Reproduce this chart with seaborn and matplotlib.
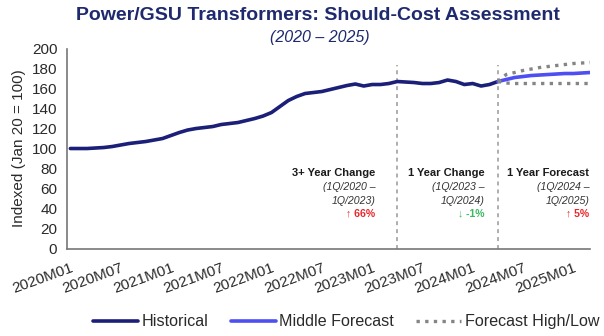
import matplotlib
matplotlib.use("Agg")
import matplotlib.pyplot as plt
import seaborn as sns
import pandas as pd
import numpy as np

# ---- data (index, Jan 2020 = 100), monthly from 2020M01 ----
hist_values = [100, 100, 100, 100.5, 101, 102, 103.5, 105, 106, 107,
               108.5, 110, 113, 116, 118.5, 120, 121, 122, 124, 125,
               126, 128, 130, 132.5, 136, 142, 148, 152, 155, 156,
               157, 159, 161, 163, 164.5, 162.5, 164, 164, 165, 167,
               166.5, 166, 165, 165, 166, 168.5, 167, 164, 165, 162.5,
               164, 167]
forecast_start = 51  # 2024M04
mid_values = [167, 169, 171, 172, 173, 173.5, 174, 174.5, 175, 175, 175.5, 176]
high_values = [167, 174, 176, 178, 179.5, 181, 182, 183, 184, 185, 185.5, 186]
low_values = [167, 165.5, 165, 165, 165, 165, 165, 165, 165, 165, 165, 165]

tick_labels = ["2020M01", "2020M07", "2021M01", "2021M07", "2022M01", "2022M07",
               "2023M01", "2023M07", "2024M01", "2024M07", "2025M01"]
period_boundaries = [39, 51]  # 2023M04, 2024M04

period_titles = ["3+ Year Change", "1 Year Change", "1 Year Forecast"]
period_ranges = [("(1Q/2020 \u2013", "1Q/2023)"),
                 ("(1Q/2023 \u2013", "1Q/2024)"),
                 ("(1Q/2024 \u2013", "1Q/2025)")]
period_changes = ["\u2191 66%", "\u2193 -1%", "\u2191 5%"]
change_colors = ["#e8262b", "#3cb862", "#e8262b"]
text_right_x = [36.4, 49.4, 61.9]

# ---- tidy frames ----
hist_df = pd.DataFrame({"month": np.arange(len(hist_values)), "value": hist_values})
fc_months = np.arange(forecast_start, forecast_start + len(mid_values))
mid_df = pd.DataFrame({"month": fc_months, "value": mid_values})
high_df = pd.DataFrame({"month": fc_months, "value": high_values})
low_df = pd.DataFrame({"month": fc_months, "value": low_values})

sns.set_theme(style="white")
plt.rcParams["font.family"] = ["Liberation Sans", "DejaVu Sans"]

fig = plt.figure(figsize=(6.04, 3.36), dpi=100)
ax = fig.add_axes([0.1109, 0.2604, 0.866, 0.5952])

navy = "#1b1f78"
mid_blue = "#4d4ff2"
dot_gray = "#858585"

sns.lineplot(data=hist_df, x="month", y="value", ax=ax, color=navy,
             linewidth=2.6, label="Historical")
sns.lineplot(data=mid_df, x="month", y="value", ax=ax, color=mid_blue,
             linewidth=2.6, label="Middle Forecast")
sns.lineplot(data=high_df, x="month", y="value", ax=ax, color=dot_gray,
             linewidth=2.4, linestyle=(0, (1, 1.6)), label="Forecast High/Low")
sns.lineplot(data=low_df, x="month", y="value", ax=ax, color=dot_gray,
             linewidth=2.4, linestyle=(0, (1, 1.6)))

# period separators
for b in period_boundaries:
    ax.plot([b, b], [0, 184], color="#a8a8a8", linewidth=1.3,
            linestyle=(0, (2.2, 2.2)), zorder=1)

# period annotations
for i in range(3):
    xr = text_right_x[i]
    ax.text(xr, 75.5, period_titles[i], ha="right", va="center",
            fontsize=8, fontweight="bold", color="#1a1a1a")
    ax.text(xr, 61.5, period_ranges[i][0], ha="right", va="center",
            fontsize=7.6, fontstyle="italic", color="#333333")
    ax.text(xr, 48, period_ranges[i][1], ha="right", va="center",
            fontsize=7.6, fontstyle="italic", color="#333333")
    ax.text(xr, 35.5, period_changes[i], ha="right", va="center",
            fontsize=7.6, fontweight="bold", color=change_colors[i])

# axes styling
ax.set_xlim(-0.4, 62.0)
ax.set_ylim(0, 200)
ax.set_yticks(np.arange(0, 201, 20))
xt = np.arange(0, 61, 3)
ax.set_xticks(xt)
labels = []
for k, t in enumerate(xt):
    labels.append(tick_labels[k // 2] if k % 2 == 0 else "")
ax.set_xticklabels(labels, rotation=20, ha="right", rotation_mode="anchor")
ax.tick_params(axis="both", direction="out", length=4, width=1, color="#777777",
               labelsize=11, labelcolor="#2a2a2a", pad=3)
ax.tick_params(axis="x", pad=5)
for side in ["top", "right"]:
    ax.spines[side].set_visible(False)
for side in ["left", "bottom"]:
    ax.spines[side].set_color("#777777")
    ax.spines[side].set_linewidth(1.2)
ax.set_xlabel("")
ax.set_ylabel("Indexed (Jan 20 = 100)", fontsize=11, color="#2a2a2a", labelpad=4)

# titles
fig.text(0.527, 0.955, "Power/GSU Transformers: Should-Cost Assessment",
         ha="center", va="center", fontsize=14, fontweight="bold", color="#1f2a6e")
fig.text(0.53, 0.887, "(2020 \u2013 2025)", ha="center", va="center",
         fontsize=11.5, fontstyle="italic", color="#1f2a6e")

# legend below the plot
ax.legend_.remove()
fig.legend(*ax.get_legend_handles_labels(), loc="center", ncol=3,
           bbox_to_anchor=(0.573, 0.042), frameon=False, fontsize=11.6,
           handlelength=2.8, handletextpad=0.2, columnspacing=1.4,
           labelcolor="#2a2a2a")

fig.savefig("out.png", dpi=100)
